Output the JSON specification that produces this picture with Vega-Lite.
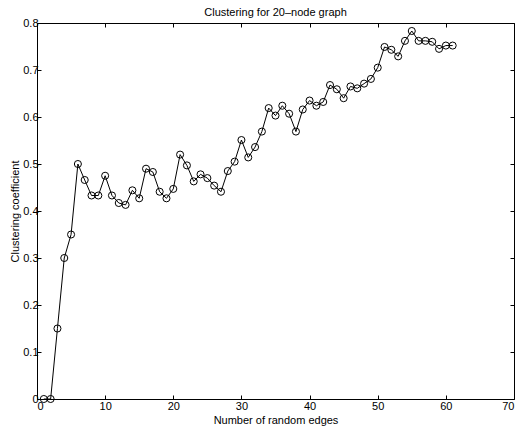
{
  "$schema": "https://vega.github.io/schema/vega-lite/v6.json",
  "width": 477,
  "height": 376,
  "autosize": "none",
  "padding": {"left": 37, "top": 23, "right": 7, "bottom": 28},
  "background": "white",
  "config": {
    "font": "Arial, Helvetica, sans-serif",
    "view": {"stroke": "black", "strokeWidth": 1},
    "axis": {"grid": false, "domain": false, "tickColor": "black", "tickSize": -4, "labelColor": "black", "labelFontSize": 11, "titleColor": "black", "titleFontSize": 11, "titleFontWeight": "normal", "labelFont": "Arial, Helvetica, sans-serif", "titleFont": "Arial, Helvetica, sans-serif"}
  },
  "title": {"text": "Clustering for 20–node graph", "fontSize": 11, "fontWeight": "normal", "font": "Arial, Helvetica, sans-serif", "color": "black", "offset": -1},
  "data": {"values": [
    {"edges": 1, "c": 0}, {"edges": 2, "c": 0}, {"edges": 3, "c": 0.15}, {"edges": 4, "c": 0.3}, {"edges": 5, "c": 0.35},
    {"edges": 6, "c": 0.5}, {"edges": 7, "c": 0.466}, {"edges": 8, "c": 0.433}, {"edges": 9, "c": 0.433}, {"edges": 10, "c": 0.475},
    {"edges": 11, "c": 0.433}, {"edges": 12, "c": 0.417}, {"edges": 13, "c": 0.413}, {"edges": 14, "c": 0.444}, {"edges": 15, "c": 0.427},
    {"edges": 16, "c": 0.49}, {"edges": 17, "c": 0.483}, {"edges": 18, "c": 0.441}, {"edges": 19, "c": 0.427}, {"edges": 20, "c": 0.447},
    {"edges": 21, "c": 0.52}, {"edges": 22, "c": 0.497}, {"edges": 23, "c": 0.463}, {"edges": 24, "c": 0.478}, {"edges": 25, "c": 0.47},
    {"edges": 26, "c": 0.454}, {"edges": 27, "c": 0.441}, {"edges": 28, "c": 0.485}, {"edges": 29, "c": 0.505}, {"edges": 30, "c": 0.551},
    {"edges": 31, "c": 0.514}, {"edges": 32, "c": 0.536}, {"edges": 33, "c": 0.569}, {"edges": 34, "c": 0.619}, {"edges": 35, "c": 0.603},
    {"edges": 36, "c": 0.624}, {"edges": 37, "c": 0.607}, {"edges": 38, "c": 0.569}, {"edges": 39, "c": 0.616}, {"edges": 40, "c": 0.635},
    {"edges": 41, "c": 0.624}, {"edges": 42, "c": 0.632}, {"edges": 43, "c": 0.668}, {"edges": 44, "c": 0.659}, {"edges": 45, "c": 0.64},
    {"edges": 46, "c": 0.665}, {"edges": 47, "c": 0.661}, {"edges": 48, "c": 0.671}, {"edges": 49, "c": 0.681}, {"edges": 50, "c": 0.705},
    {"edges": 51, "c": 0.749}, {"edges": 52, "c": 0.743}, {"edges": 53, "c": 0.729}, {"edges": 54, "c": 0.762}, {"edges": 55, "c": 0.783},
    {"edges": 56, "c": 0.762}, {"edges": 57, "c": 0.762}, {"edges": 58, "c": 0.76}, {"edges": 59, "c": 0.745}, {"edges": 60, "c": 0.752},
    {"edges": 61, "c": 0.752}
  ]},
  "layer": [
    {
      "mark": {"type": "line", "color": "black", "strokeWidth": 1},
      "encoding": {
        "x": {"field": "edges", "type": "quantitative", "scale": {"domain": [0, 70], "nice": false}, "axis": {"orient": "bottom", "values": [0, 10, 20, 30, 40, 50, 60, 70], "title": "Number of random edges", "labelPadding": 5, "titlePadding": 3}},
        "y": {"field": "c", "type": "quantitative", "scale": {"domain": [0, 0.8], "nice": false}, "axis": {"orient": "left", "values": [0, 0.1, 0.2, 0.3, 0.4, 0.5, 0.6, 0.7, 0.8], "format": "~g", "title": "Clustering coefficient", "labelPadding": 3, "titlePadding": 2}}
      }
    },
    {
      "mark": {"type": "point", "shape": "circle", "filled": false, "color": "black", "strokeWidth": 1, "size": 50, "opacity": 1},
      "encoding": {
        "x": {"field": "edges", "type": "quantitative", "axis": {"orient": "top", "values": [0, 10, 20, 30, 40, 50, 60, 70], "labels": false, "title": null}},
        "y": {"field": "c", "type": "quantitative", "axis": {"orient": "right", "values": [0, 0.1, 0.2, 0.3, 0.4, 0.5, 0.6, 0.7, 0.8], "labels": false, "title": null}}
      }
    }
  ],
  "resolve": {"axis": {"x": "independent", "y": "independent"}}
}
